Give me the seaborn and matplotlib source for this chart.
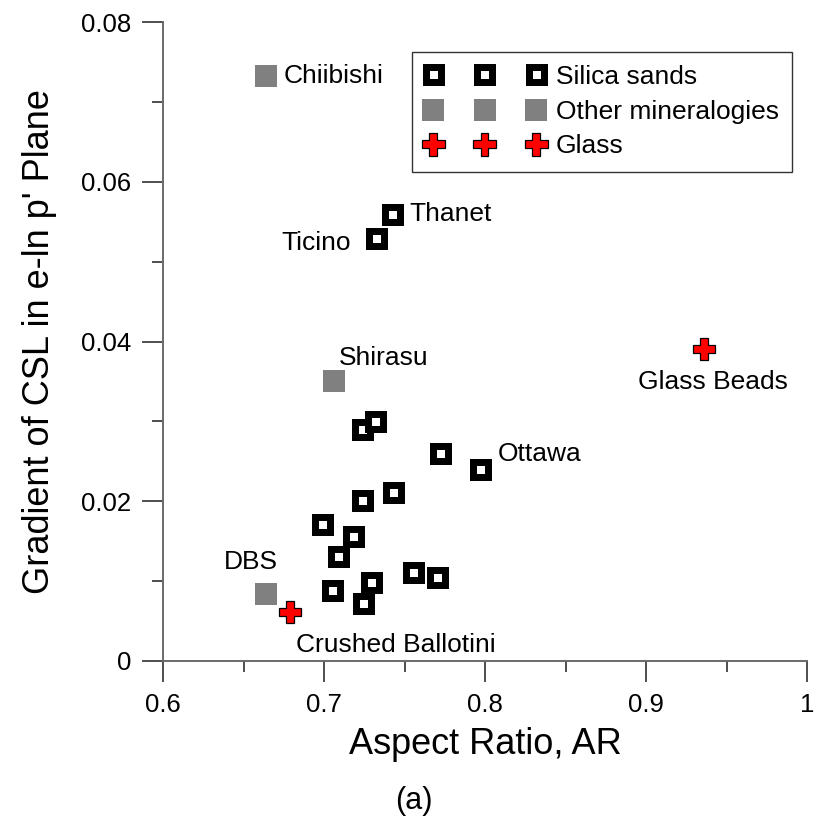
import matplotlib
matplotlib.use("Agg")
import matplotlib.pyplot as plt
from matplotlib.ticker import MultipleLocator, FixedLocator, FixedFormatter
import seaborn as sns
import pandas as pd

# Silica sands (open black squares)
silica_ar = [0.742, 0.732, 0.7234, 0.7317, 0.772, 0.797, 0.743, 0.7234,
             0.699, 0.718, 0.709, 0.755, 0.770, 0.729, 0.705, 0.724]
silica_g = [0.0560, 0.0530, 0.0290, 0.0300, 0.0261, 0.0241, 0.0211, 0.0201,
            0.0171, 0.0157, 0.0131, 0.0111, 0.0105, 0.0099, 0.0089, 0.0073]

# Other mineralogies (grey squares)
other_names = ["Chiibishi", "Shirasu", "DBS"]
other_ar = [0.664, 0.7065, 0.664]
other_g = [0.0732, 0.0351, 0.0084]

# Glass (red crosses)
glass_names = ["Glass Beads", "Crushed Ballotini"]
glass_ar = [0.936, 0.679]
glass_g = [0.0390, 0.0061]

# Labelled silica sands
silica_named = {"Thanet": 0, "Ticino": 1, "Ottawa": 5}

x_ticks = [0.6, 0.7, 0.8, 0.9, 1.0]
x_tick_labels = ["0.6", "0.7", "0.8", "0.9", "1"]
y_ticks = [0.0, 0.02, 0.04, 0.06, 0.08]
y_tick_labels = ["0", "0.02", "0.04", "0.06", "0.08"]

sns.set_style("ticks")
plt.rcParams["font.family"] = ["Liberation Sans", "DejaVu Sans"]
plt.rcParams["text.color"] = "black"
plt.rcParams["axes.labelcolor"] = "black"

fig = plt.figure(figsize=(8.15, 8.23), dpi=100)
ax = fig.add_axes([163 / 815, 1 - 661 / 823, 644 / 815, 639 / 823])

df_s = pd.DataFrame({"AR": silica_ar, "G": silica_g})
df_o = pd.DataFrame({"AR": other_ar, "G": other_g})
df_g = pd.DataFrame({"AR": glass_ar, "G": glass_g})

px = 0.72  # points per pixel at 100 dpi
sns.scatterplot(data=df_s, x="AR", y="G", ax=ax, marker="s", s=(15 * px) ** 2,
                facecolor="white", edgecolor="black", linewidth=7 * px,
                label="Silica sands", zorder=3, legend=False)
sns.scatterplot(data=df_o, x="AR", y="G", ax=ax, marker="s", s=(22 * px) ** 2,
                color="#808080", edgecolor="none", linewidth=0,
                label="Other mineralogies", zorder=3, legend=False)
sns.scatterplot(data=df_g, x="AR", y="G", ax=ax, marker="P", s=(23 * px) ** 2,
                facecolor="#ff0000", edgecolor="black", linewidth=0.9,
                label="Glass", zorder=4, legend=False)
for coll in ax.collections:
    coll.set_joinstyle("miter")

ax.set_xlim(0.6, 1.0)
ax.set_ylim(0.0, 0.08)
ax.xaxis.set_major_locator(FixedLocator(x_ticks))
ax.xaxis.set_major_formatter(FixedFormatter(x_tick_labels))
ax.yaxis.set_major_locator(FixedLocator(y_ticks))
ax.yaxis.set_major_formatter(FixedFormatter(y_tick_labels))
ax.xaxis.set_minor_locator(MultipleLocator(0.05))
ax.yaxis.set_minor_locator(MultipleLocator(0.01))

spine_col = "#6a6a6a"
for side in ["top", "right"]:
    ax.spines[side].set_visible(False)
for side in ["left", "bottom"]:
    ax.spines[side].set_color(spine_col)
    ax.spines[side].set_linewidth(1.4)
ax.tick_params(which="major", direction="out", length=15, width=1.2,
               color="#303030", labelsize=18.5, pad=8, labelcolor="black")
ax.tick_params(which="minor", direction="out", length=8, width=1.2,
               color="#303030")

ax.set_xlabel("Aspect Ratio, AR", fontsize=26, labelpad=7)
ax.set_ylabel("Gradient of CSL in e-ln p' Plane", fontsize=26, labelpad=17)

ann_fs = 19
def label_point(x, y, text, dx, dy, ha):
    ax.annotate(text, (x, y), xytext=(dx * px, dy * px),
                textcoords="offset points", ha=ha, va="center",
                fontsize=ann_fs, zorder=5)

label_point(other_ar[0], other_g[0], other_names[0], 18, 0, "left")
label_point(other_ar[1], other_g[1], other_names[1], 4, 23, "left")
label_point(other_ar[2], other_g[2], other_names[2], -15, 32, "center")
label_point(glass_ar[0], glass_g[0], glass_names[0], 9, -33, "center")
label_point(glass_ar[1], glass_g[1], glass_names[1], 6, -33, "left")
i = silica_named["Thanet"]
label_point(silica_ar[i], silica_g[i], "Thanet", 18, 0, "left")
i = silica_named["Ticino"]
label_point(silica_ar[i], silica_g[i], "Ticino", -25, -5, "right")
i = silica_named["Ottawa"]
label_point(silica_ar[i], silica_g[i], "Ottawa", 18, 15, "left")

leg = ax.legend(loc="upper right", bbox_to_anchor=(792 / 815, 1 - 52 / 823),
                bbox_transform=fig.transFigure, borderaxespad=0,
                scatterpoints=3, scatteryoffsets=[0.5], handlelength=4.5,
                handletextpad=0.45, borderpad=0.5, labelspacing=0.4,
                fontsize=19, frameon=True, fancybox=False, shadow=False,
                framealpha=1)
leg.get_frame().set_edgecolor("#333333")
leg.get_frame().set_linewidth(1.0)
for h in leg.legend_handles:
    h.set_joinstyle("miter")

fig.text(414 / 815, 1 - 801 / 823, "(a)", ha="center", va="center", fontsize=22)

fig.savefig("out.png", dpi=100)
